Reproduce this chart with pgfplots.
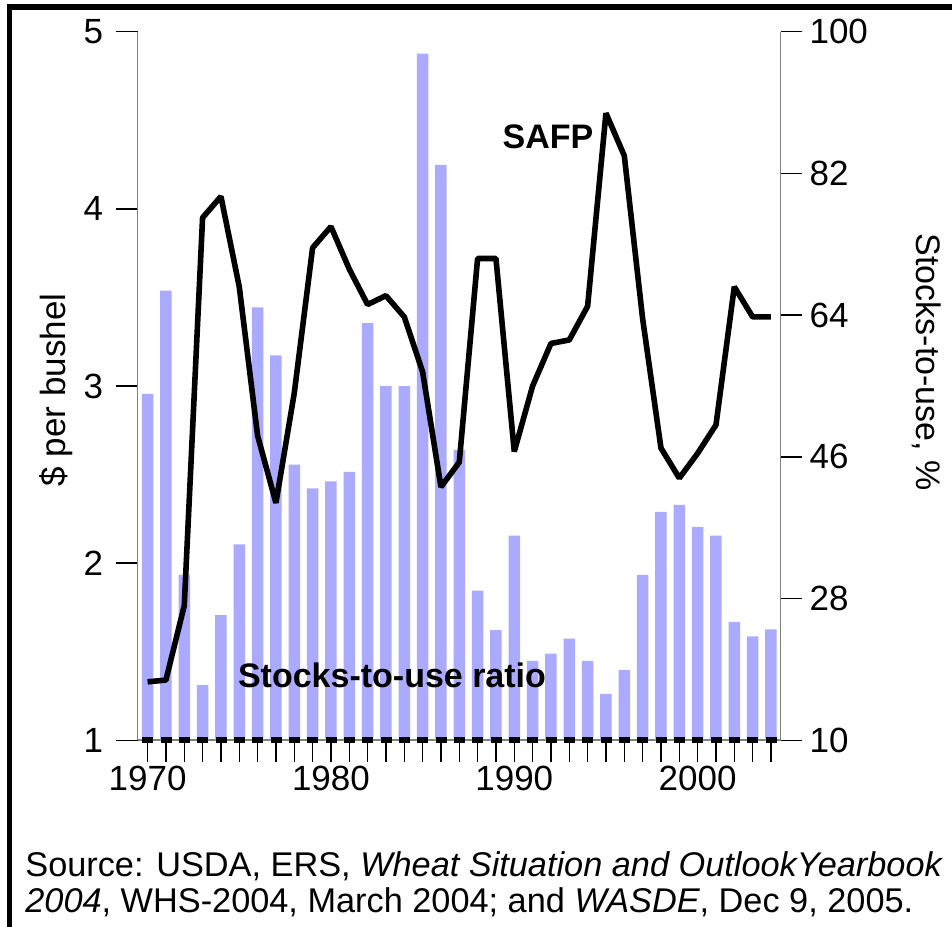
\documentclass[border=0pt]{standalone}
\usepackage{pgfplots}
\pgfplotsset{compat=1.18}
\usepackage{fontspec}
\setmainfont{Liberation Sans}
\definecolor{barblue}{RGB}{170,170,255}
\definecolor{axgray}{RGB}{128,128,128}
\begin{document}
\begin{tikzpicture}
\useasboundingbox (-68.75pt,-92.85pt) rectangle (407.25pt,370.15pt);
\pgfplotsset{
  common/.style={
    at={(0pt,0pt)}, anchor=south west,
    scale only axis, width=321.5pt, height=354.3pt,
    xmin=1969.45, xmax=2004.52,
    tick align=outside, major tick length=11pt, minor tick length=11pt,
    tick style={black, line width=0.7pt},
    axis line style={axgray, line width=0.9pt},
    ticklabel style={font=\fontsize{17.5}{18}\selectfont},
    /pgf/number format/assume math mode=true,
  }
}
\begin{axis}[common,
  ymin=10, ymax=100,
  axis y line*=right, axis x line*=bottom,
  ytick={10,28,46,64,82,100},
  xtick={1970,1980,1990,2000}, xticklabels={1970,1980,1990,2000},
  xticklabel style={yshift=1.5pt},
  minor xtick={1971,...,2004},
  ybar, bar width=5.75pt,
]
\addplot[fill=barblue, draw=none] coordinates {
(1970,54.0) (1971,67.1) (1972,31.0) (1973,17.0) (1974,25.9) (1975,34.9)
(1976,65.0) (1977,58.9) (1978,45.0) (1979,42.0) (1980,42.9) (1981,44.1)
(1982,63.0) (1983,55.0) (1984,55.0) (1985,97.2) (1986,83.1) (1987,46.9)
(1988,29.0) (1989,24.0) (1990,36.0) (1991,20.1) (1992,21.0) (1993,22.9)
(1994,20.1) (1995,15.9) (1996,18.9) (1997,31.0) (1998,39.0) (1999,39.9)
(2000,37.1) (2001,36.0) (2002,25.0) (2003,23.2) (2004,24.1)
};
\end{axis}
\begin{axis}[common,
  ymin=1, ymax=5,
  axis y line*=left, axis x line=none,
  ytick={1,2,3,4,5},
  yticklabel style={xshift=-2.7pt},
  clip=false,
]
\addplot[black, line width=2.8pt, line join=bevel] coordinates {
(1970,1.33) (1971,1.34) (1972,1.76) (1973,3.95) (1974,4.07) (1975,3.56)
(1976,2.72) (1977,2.34) (1978,2.96) (1979,3.78) (1980,3.90) (1981,3.66)
(1982,3.46) (1983,3.51) (1984,3.39) (1985,3.08) (1986,2.43) (1987,2.57)
(1988,3.72) (1989,3.72) (1990,2.63) (1991,3.00) (1992,3.24) (1993,3.26)
(1994,3.45) (1995,4.54) (1996,4.30) (1997,3.38) (1998,2.65) (1999,2.48)
(2000,2.62) (2001,2.78) (2002,3.56) (2003,3.39) (2004,3.39)
};
\addplot[only marks, mark=square*, mark size=2.5pt, mark options={yscale=0.5, black, draw=none, fill=black}] coordinates {
(1970,1) (1971,1) (1972,1) (1973,1) (1974,1) (1975,1) (1976,1) (1977,1)
(1978,1) (1979,1) (1980,1) (1981,1) (1982,1) (1983,1) (1984,1) (1985,1)
(1986,1) (1987,1) (1988,1) (1989,1) (1990,1) (1991,1) (1992,1) (1993,1)
(1994,1) (1995,1) (1996,1) (1997,1) (1998,1) (1999,1) (2000,1) (2001,1)
(2002,1) (2003,1) (2004,1)
};
\end{axis}
\node[font=\fontsize{17}{18}\selectfont\bfseries] at (205.25pt,301.65pt) {SAFP};
\node[font=\fontsize{17}{18}\selectfont\bfseries] at (127.25pt,32.65pt) {Stocks-to-use ratio};
\node[rotate=90, font=\fontsize{17.5}{18}\selectfont] at (-40.75pt,175.2pt) {\$ per bushel};
\node[rotate=-90, font=\fontsize{17}{18}\selectfont] at (394.75pt,189pt) {Stocks-to-use, \%};
\node[anchor=base west, inner sep=0pt, font=\fontsize{17.15}{18}\selectfont] at (-56.25pt,-67.85pt) {Source: USDA, ERS, \textit{Wheat Situation and OutlookYearbook}};
\node[anchor=base west, inner sep=0pt, font=\fontsize{17.15}{18}\selectfont] at (-56.25pt,-85.85pt) {\textit{2004}, WHS-2004, March 2004; and \textit{WASDE}, Dec 9, 2005.};
\draw[line width=2.6pt] (-63.9pt,-95pt) -- (-63.9pt,366.65pt) -- (410pt,366.65pt);
\end{tikzpicture}
\end{document}
